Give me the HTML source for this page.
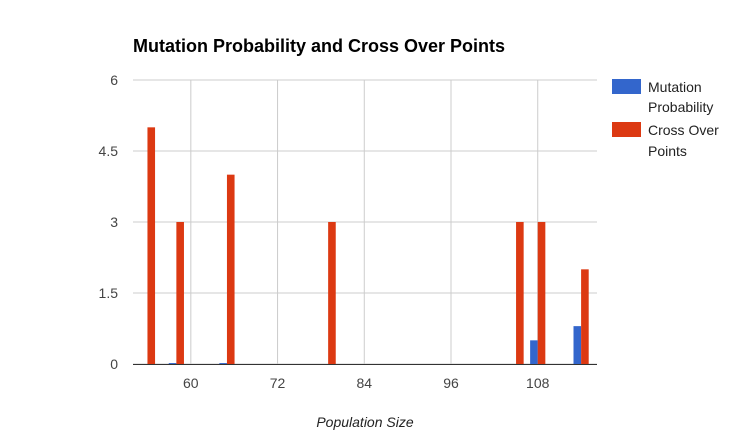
<!DOCTYPE html>
<html><head><meta charset="utf-8">
<style>
body{margin:0;background:#fff;}
svg{display:block;font-family:"Liberation Sans",Arial,sans-serif;}
</style></head>
<body>
<svg id="chart" width="733" height="447">
<text x="133" y="52" font-size="18" font-weight="bold" fill="#000">Mutation Probability and Cross Over Points</text>
<g id="grid"></g>
<g id="bars"></g>
<g id="axes"></g>
<text x="365" y="427" font-size="14" font-style="italic" text-anchor="middle" fill="#222">Population Size</text>
<g>
<rect x="612" y="79" width="29" height="15" fill="#3366cc"/>
<text x="648" y="92" font-size="14" fill="#222">Mutation</text>
<text x="648" y="112" font-size="14" fill="#222">Probability</text>
<rect x="612" y="122" width="29" height="15" fill="#dc3912"/>
<text x="648" y="135" font-size="14" fill="#222">Cross Over</text>
<text x="648" y="156" font-size="14" fill="#222">Points</text>
</g>
</svg>
<script>
const populationSizes = [54, 58, 65, 79, 105, 108, 114];
const mutationProbability = [0, 0.02, 0.02, 0, 0, 0.5, 0.8];
const crossOverPoints = [5, 3, 4, 3, 3, 3, 2];
const xTicks = [60, 72, 84, 96, 108];
const yTicks = [0, 1.5, 3, 4.5, 6];

const NS = "http://www.w3.org/2000/svg";
const plotLeft = 133, plotRight = 597, plotTop = 80, plotBottom = 364;
const xMin = 52, xMax = 116.2, yMin = 0, yMax = 6;
function xs(v){ return plotLeft + (v - xMin) / (xMax - xMin) * (plotRight - plotLeft); }
function ys(v){ return plotBottom - (v - yMin) / (yMax - yMin) * (plotBottom - plotTop); }
function mk(tag, attrs, parent){
  const e = document.createElementNS(NS, tag);
  for (const k in attrs) e.setAttribute(k, attrs[k]);
  parent.appendChild(e); return e;
}
const grid = document.getElementById('grid');
const axes = document.getElementById('axes');
const bars = document.getElementById('bars');
yTicks.forEach(t => {
  const l = mk('line', {x1:plotLeft, x2:plotRight, y1:ys(t), y2:ys(t), stroke:'#ccc', 'stroke-width':1}, grid);
  
  
  const tx = mk('text', {x:118, y:ys(t)+5, 'font-size':14, 'text-anchor':'end', fill:'#444'}, axes);
  tx.textContent = t;
  
  
});
xTicks.forEach(t => {
  const l = mk('line', {x1:xs(t), x2:xs(t), y1:plotTop, y2:plotBottom, stroke:'#ccc', 'stroke-width':1}, grid);
  
  
  const tx = mk('text', {x:xs(t), y:388, 'font-size':14, 'text-anchor':'middle', fill:'#444'}, axes);
  tx.textContent = t;
  
  
});
const bw = 7.6;
populationSizes.forEach((p, i) => {
  const cx = xs(p);
  const m = mutationProbability[i];
  if (m > 0) {
    const r = mk('rect', {x:cx-bw, y:ys(m), width:bw, height:ys(0)-ys(m), fill:'#3366cc'}, bars);
    
    
  }
  const c = crossOverPoints[i];
  const r2 = mk('rect', {x:cx, y:ys(c), width:bw, height:ys(0)-ys(c), fill:'#dc3912'}, bars);
  
  
});
const ax = mk('line', {x1:plotLeft, x2:plotRight, y1:plotBottom+0.5, y2:plotBottom+0.5, stroke:'#333', 'stroke-width':1}, axes);


</script>
</body></html>
